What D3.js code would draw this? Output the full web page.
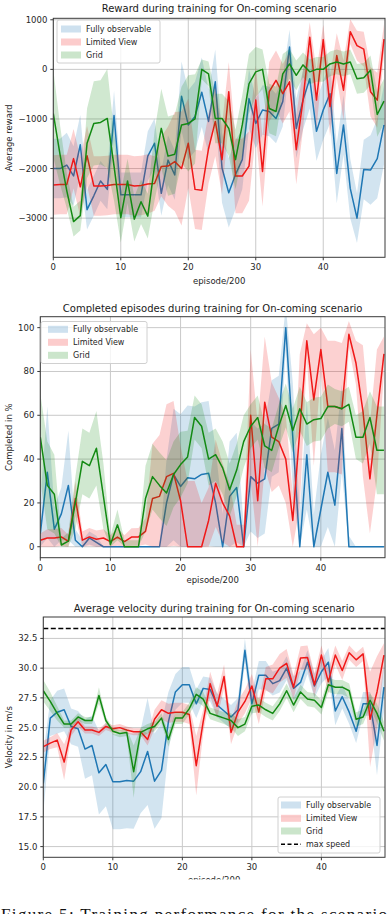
<!DOCTYPE html>
<html>
<head>
<meta charset="utf-8">
<script src="https://cdn.jsdelivr.net/npm/d3@7"></script>
<style>
  body { margin: 0; background: #fff; }
  svg { display: block; font-family: "DejaVu Sans", sans-serif; }
</style>
</head>
<body>
<div id="chart"></div>
<script>
// Episode index (x axis, one point per 200 episodes)
const episodes = d3.range(50);
const seriesNames = ["Fully observable", "Limited View", "Grid"];
const seriesColors = ["#1f77b4", "#f01818", "#138a13"];
const xTicks = [0, 10, 20, 30, 40];

// Reward plot
const rewardFull = [-2000,-2000,-1930,-2150,-1520,-2830,-2550,-2250,-2420,-930,-2530,-2530,-2530,-2530,-1750,-1490,-2500,-1830,-2130,-540,-1120,-950,-460,-1050,-250,-1990,-2490,-2120,-1820,-590,-1090,-820,-850,-990,-650,450,-1190,-620,-190,-1250,-820,-490,-2100,-1120,-2400,-3000,-2020,-2030,-1800,-1120];
const rewardFullStd = [600,600,650,600,600,400,400,400,400,500,450,450,450,450,500,500,450,500,500,700,700,700,700,650,650,700,700,700,600,600,500,500,500,500,500,350,600,600,600,600,600,600,600,600,600,500,600,700,800,800];
const rewardLimited = [-2330,-2320,-2320,-1800,-2370,-1740,-2350,-2350,-2340,-2320,-2320,-2320,-2350,-2340,-2310,-2300,-1960,-1950,-1860,-2000,-1490,-2420,-2440,-1600,-1050,-1820,-450,-2150,-2150,-1950,-620,-2060,-450,-220,-490,-250,-1620,-620,650,-620,600,-750,280,-420,760,480,410,-450,-620,610];
const rewardLimitedStd = [600,600,600,600,600,600,600,600,600,600,600,600,600,600,600,550,600,800,1000,1150,900,800,800,700,700,700,600,750,750,700,700,700,600,600,600,600,700,600,300,600,300,600,450,600,250,300,350,500,550,300];
const rewardGrid = [-890,-1720,-2450,-3070,-2950,-1490,-1090,-1070,-990,-1950,-2990,-2250,-3020,-2670,-2960,-1950,-1190,-1750,-1710,-1120,-1090,-1000,0,-90,-990,-990,-1190,-1820,-1120,-290,-50,0,-790,-850,-90,110,-120,90,-50,0,0,110,150,110,150,-190,-170,-20,-910,-640];
const rewardGridStd = [880,600,350,300,300,700,850,850,1000,700,500,450,450,450,450,700,800,800,800,770,970,900,200,250,500,500,550,600,600,600,500,400,500,500,400,300,300,250,250,250,250,250,250,250,250,300,300,300,450,450];
const rewardTicks = [-3000, -2000, -1000, 0, 1000];

// Completed episodes plot (%)
const complFull = [6,34,8,15,28,3,0,4,2,0,0,0,0,0,0,0,0,0,20,33,27.5,31.5,31,33,33.5,20,0,23,27,0,32,29,31,54,56,100,50,0,42,0,17,34,19,54,0,0,0,0,0,0];
const complFullStd = [15,30,10,12,25,5,3,3,3,0,0,0,0,0,0,0,0,0,20,30,33,33,33,33,33,25,15,25,25,10,25,25,25,22,22,10,25,15,25,15,25,25,25,20,5,0,0,0,0,0];
const complLimited = [3,4,4,4.5,2.5,22,3,4.5,3.4,4,2.3,4.4,2.3,4.4,4.5,7,22,23,32,33.5,21,0,0,0,12,29,20,14,0,0,60,21,66,50,48,40,12,53,94,67,90,64,64,63,97,84,62,31,60,88];
const complLimitedStd = [3,4,4,4,3,8,4,4,4,4,3,4,3,4,4,6,25,28,33,33,25,30,30,20,15,20,18,15,10,10,30,35,30,25,20,20,12,35,8,30,10,30,30,30,6,10,30,25,30,8];
const complGrid = [50,28,24,0.8,2.6,20,39,37,45,23,1,10,0,0,0,22,32,28,24.5,33,37.5,41,59,55,40,42,36,26,35,48,55,59,46,44,55,64.5,53,63,56,58,58.5,64,64,63,65,50,50,59,44,44];
const complGridStd = [20,20,18,3,4,12,15,15,17,15,4,7,3,3,3,15,15,15,15,15,15,12,10,10,12,12,12,12,12,12,10,10,10,10,10,10,10,10,10,10,10,10,8,8,8,10,12,12,20,20];
const complTicks = [0, 20, 40, 60, 80, 100];

// Velocity plot (m/s)
const velFull = [20.3,25.8,26.3,26.5,25.1,24.9,23.2,23.5,21.2,21.9,20.45,20.45,20.55,20.5,21.3,23.0,20.5,21.4,25.5,28.0,28.6,28.6,27.0,28.3,28.2,26.9,26.4,25.9,26.5,31.5,27.0,29.4,29.4,28.7,28.95,30.0,28.3,28.8,30.5,28.5,29.7,30.5,26.4,27.6,26.3,24.7,27.0,27.0,23.5,28.4];
const velFullStd = [2.5,1.5,1.8,1.8,1.5,1.5,2.5,2.5,3.5,3.5,4.0,4.0,4.0,4.0,3.5,4.5,4.0,4.0,2.5,1.5,1.5,1.5,1.2,1.0,1.0,1.0,1.0,1.0,1.0,1.0,1.0,1.2,1.2,1.0,1.0,1.0,1.0,1.0,1.0,1.0,1.0,1.2,1.2,1.0,1.0,1.0,1.0,1.0,2.5,2.0];
const velLimited = [23.4,23.7,23.95,22.1,24.8,25.5,24.8,24.8,24.6,25.1,24.9,25.0,24.8,24.65,24.65,24.0,25.7,26.5,26.2,26.3,26.3,26.1,21.8,25.5,28.7,26.8,29.3,24.6,26.3,27.2,28.5,26.3,29.1,29.1,30.0,30.4,28.4,30.85,30.9,28.6,31.1,28.85,31.1,29.8,31.3,30.7,31.2,25.7,28.0,31.1];
const velLimitedStd = [0.5,0.5,0.6,1.5,0.5,0.4,0.3,0.3,0.3,0.3,0.3,0.3,0.3,0.3,0.3,0.5,0.8,0.8,0.8,0.8,0.8,0.8,2.5,1.0,1.0,1.0,1.0,1.0,1.0,1.0,1.0,1.0,1.0,1.2,1.2,1.2,1.0,1.0,1.0,1.0,0.8,1.0,0.8,0.8,0.6,0.6,0.6,4.0,3.0,1.0];
const velGrid = [28.1,27.2,26.2,25.3,25.3,25.9,25.6,25.6,27.7,25.6,24.7,24.5,24.6,21.3,24.6,24.9,25.1,25.8,24.0,25.8,25.8,26.6,27.8,27.4,26.2,26.0,25.8,25.6,25.0,25.3,26.8,26.9,26.5,26.2,27.0,28.1,26.9,28.0,27.4,27.3,26.7,28.6,28.4,28.4,28.1,25.7,25.9,27.3,26.2,24.7];
const velGridStd = [0.9,0.8,0.6,0.3,0.3,0.3,0.3,0.3,0.7,0.3,0.3,0.3,0.3,2.2,0.4,0.4,0.4,0.4,0.6,0.5,0.5,0.5,0.6,0.6,0.5,0.5,0.5,0.6,0.7,0.6,0.6,0.6,0.6,0.6,0.6,0.6,0.6,0.6,0.6,0.6,0.6,0.6,0.6,0.6,0.6,0.6,0.6,0.6,0.8,0.8];
const velTicks = [15, 17.5, 20, 22.5, 25, 27.5, 30, 32.5];
const maxSpeed = 33.33;

class TrainingPlot {
  constructor(_config) {
    this.config = {
      svg: _config.svg,
      id: _config.id,
      left: _config.left,
      right: _config.right,
      top: _config.top,
      bottom: _config.bottom,
      xDomain: _config.xDomain || [0, 49.15],
      yDomain: _config.yDomain,
      yTicks: _config.yTicks,
      yFormat: _config.yFormat || (d => d3.format("d")(d).replace("-", "\u2212")),
      title: _config.title,
      titleY: _config.titleY,
      yLabel: _config.yLabel,
      xLabelY: _config.xLabelY,
      xLabelClip: _config.xLabelClip,
      floor: _config.floor,
      legend: _config.legend,
      maxSpeed: _config.maxSpeed
    };
    this.series = _config.series;
    this.initVis();
  }

  initVis() {
    let vis = this;
    let c = vis.config;
    vis.xScale = d3.scaleLinear().domain(c.xDomain).range([c.left, c.right]);
    vis.yScale = d3.scaleLinear().domain(c.yDomain).range([c.bottom, c.top]);
    vis.g = c.svg.append("g");

    vis.g.append("clipPath").attr("id", "clip-" + c.id)
      .append("rect")
      .attr("x", c.left).attr("y", c.top)
      .attr("width", c.right - c.left).attr("height", c.bottom - c.top);
  }

  renderVis() {
    let vis = this;
    let c = vis.config;
    let x = vis.xScale, y = vis.yScale;

    // grid
    let grid = vis.g.append("g").attr("stroke", "#c9c9c9").attr("stroke-width", 1);
    grid.selectAll(".gx").data(xTicks).join("line")
      .attr("x1", d => x(d)).attr("x2", d => x(d))
      .attr("y1", c.top).attr("y2", c.bottom);
    grid.selectAll(".gy").data(c.yTicks).join("line")
      .attr("x1", c.left).attr("x2", c.right)
      .attr("y1", d => y(d)).attr("y2", d => y(d));

    // bands + lines, one series after another
    let plot = vis.g.append("g").attr("clip-path", "url(#clip-" + c.id + ")");
    let lo = (s, i) => {
      let v = s.mean[i] - s.std[i];
      return c.floor !== undefined ? Math.max(c.floor, v) : v;
    };
    vis.series.forEach(s => {
      let area = d3.area()
        .x(i => x(i))
        .y0(i => y(lo(s, i)))
        .y1(i => y(s.mean[i] + s.std[i]));
      let line = d3.line().x(i => x(i)).y(i => y(s.mean[i]));
      plot.append("path").datum(episodes)
        .attr("d", area)
        .attr("fill", s.color).attr("fill-opacity", 0.2);
      plot.append("path").datum(episodes)
        .attr("d", line)
        .attr("fill", "none").attr("stroke", s.color)
        .attr("stroke-width", 1.5).attr("stroke-linejoin", "round");
    });

    if (c.maxSpeed !== undefined) {
      plot.append("line")
        .attr("x1", c.left).attr("x2", c.right)
        .attr("y1", y(c.maxSpeed)).attr("y2", y(c.maxSpeed))
        .attr("stroke", "#000").attr("stroke-width", 1.5)
        .attr("stroke-dasharray", "5,2.5");
    }

    // frame
    vis.g.append("rect")
      .attr("x", c.left).attr("y", c.top)
      .attr("width", c.right - c.left).attr("height", c.bottom - c.top)
      .attr("fill", "none").attr("stroke", "#3a3a3a").attr("stroke-width", 1);

    // ticks
    let ticks = vis.g.append("g").attr("stroke", "#3a3a3a").attr("stroke-width", 1);
    ticks.selectAll(".tx").data(xTicks).join("line")
      .attr("x1", d => x(d)).attr("x2", d => x(d))
      .attr("y1", c.bottom).attr("y2", c.bottom + 3);
    ticks.selectAll(".ty").data(c.yTicks).join("line")
      .attr("x1", c.left - 3).attr("x2", c.left)
      .attr("y1", d => y(d)).attr("y2", d => y(d));

    let labels = vis.g.append("g").attr("fill", "#262626").attr("font-size", 8.5);
    labels.selectAll(".lx").data(xTicks).join("text")
      .attr("x", d => x(d)).attr("y", c.bottom + 13)
      .attr("text-anchor", "middle")
      .text(d => d);
    labels.selectAll(".ly").data(c.yTicks).join("text")
      .attr("x", c.left - 6).attr("y", d => y(d) + 3)
      .attr("text-anchor", "end")
      .text(c.yFormat);

    // axis titles
    let xl = vis.g.append("text")
      .attr("x", (c.left + c.right) / 2).attr("y", c.xLabelY)
      .attr("text-anchor", "middle").attr("font-size", 8.5).attr("fill", "#262626")
      .text("episode/200");
    if (c.xLabelClip) {
      vis.g.append("clipPath").attr("id", "xlclip-" + c.id)
        .append("rect").attr("x", 0).attr("y", c.bottom).attr("width", 390).attr("height", c.xLabelClip - c.bottom);
      xl.attr("clip-path", "url(#xlclip-" + c.id + ")");
    }
    vis.g.append("text")
      .attr("transform", `translate(12,${(c.top + c.bottom) / 2}) rotate(-90)`)
      .attr("text-anchor", "middle").attr("font-size", 8.5).attr("fill", "#262626")
      .text(c.yLabel);
    vis.g.append("text")
      .attr("x", (c.left + c.right) / 2).attr("y", c.titleY)
      .attr("text-anchor", "middle").attr("font-size", 10).attr("fill", "#1a1a1a")
      .text(c.title);

    // legend
    let L = c.legend;
    let leg = vis.g.append("g");
    leg.append("rect")
      .attr("x", L.x).attr("y", L.y).attr("width", L.w).attr("height", L.h)
      .attr("rx", 2).attr("fill", "#fff").attr("fill-opacity", 0.8)
      .attr("stroke", "#d0d0d0").attr("stroke-width", 1);
    let rows = vis.series.map(s => ({ name: s.name, color: s.color, dashed: false }));
    if (c.maxSpeed !== undefined) rows.push({ name: "max speed", color: "#000", dashed: true });
    rows.forEach((r, k) => {
      let ry = L.rowY[k];
      if (r.dashed) {
        leg.append("line")
          .attr("x1", L.px).attr("x2", L.px + 20).attr("y1", ry).attr("y2", ry)
          .attr("stroke", "#000").attr("stroke-width", 1.5).attr("stroke-dasharray", "4,2.5");
      } else {
        leg.append("rect")
          .attr("x", L.px).attr("y", ry - 3.5).attr("width", 20).attr("height", 7)
          .attr("fill", r.color).attr("fill-opacity", 0.22);
      }
      leg.append("text")
        .attr("x", L.px + 25).attr("y", ry + 3)
        .attr("font-size", 8).attr("fill", "#262626")
        .text(r.name);
    });
  }
}

const svg = d3.select("#chart").append("svg")
  .attr("width", 390).attr("height", 914);
svg.append("rect").attr("width", 390).attr("height", 914).attr("fill", "#fff");

const makeSeries = (a, b, c, sa, sb, sc) => [
  { name: seriesNames[0], color: seriesColors[0], mean: a, std: sa },
  { name: seriesNames[1], color: seriesColors[1], mean: b, std: sb },
  { name: seriesNames[2], color: seriesColors[2], mean: c, std: sc }
];

let rewardPlot = new TrainingPlot({
  svg: svg, id: "reward",
  left: 53.3, right: 385, top: 18.3, bottom: 257.3,
  yDomain: [-3790, 1030], yTicks: rewardTicks,
  title: "Reward during training for On-coming scenario", titleY: 12,
  yLabel: "Average reward", xLabelY: 284,
  legend: { x: 57, y: 20, w: 103, h: 43, px: 61, rowY: [29, 42, 55] },
  series: makeSeries(rewardFull, rewardLimited, rewardGrid, rewardFullStd, rewardLimitedStd, rewardGridStd)
});
rewardPlot.renderVis();

let complPlot = new TrainingPlot({
  svg: svg, id: "compl",
  left: 40.3, right: 385, top: 316.7, bottom: 557.7,
  yDomain: [-5, 105], yTicks: complTicks, floor: 0,
  title: "Completed episodes during training for On-coming scenario", titleY: 312,
  yLabel: "Completed in %", xLabelY: 583,
  legend: { x: 41, y: 321.5, w: 106, h: 42, px: 48, rowY: [329.3, 342.3, 355.3] },
  series: makeSeries(complFull, complLimited, complGrid, complFullStd, complLimitedStd, complGridStd)
});
complPlot.renderVis();

let velPlot = new TrainingPlot({
  svg: svg, id: "vel",
  left: 43.3, right: 385, top: 617, bottom: 857.3,
  yDomain: [14.1, 34.3], yTicks: velTicks, yFormat: d3.format(".1f"),
  title: "Average velocity during training for On-coming scenario", titleY: 612,
  yLabel: "Velocity in m/s", xLabelY: 883, xLabelClip: 879.5,
  maxSpeed: maxSpeed,
  legend: { x: 278, y: 797, w: 102, h: 56, px: 281, rowY: [805, 818.3, 831, 844.3] },
  series: makeSeries(velFull, velLimited, velGrid, velFullStd, velLimitedStd, velGridStd)
});
velPlot.renderVis();

// figure caption, cut off by the bottom edge of the page
svg.append("text")
  .attr("x", 1).attr("y", 920)
  .attr("font-family", "'Liberation Serif', 'DejaVu Serif', serif")
  .attr("font-size", 17).attr("fill", "#111")
  .attr("textLength", 386).attr("lengthAdjust", "spacing")
  .text("Figure 5: Training performance for the scenario");
</script>
</body>
</html>
